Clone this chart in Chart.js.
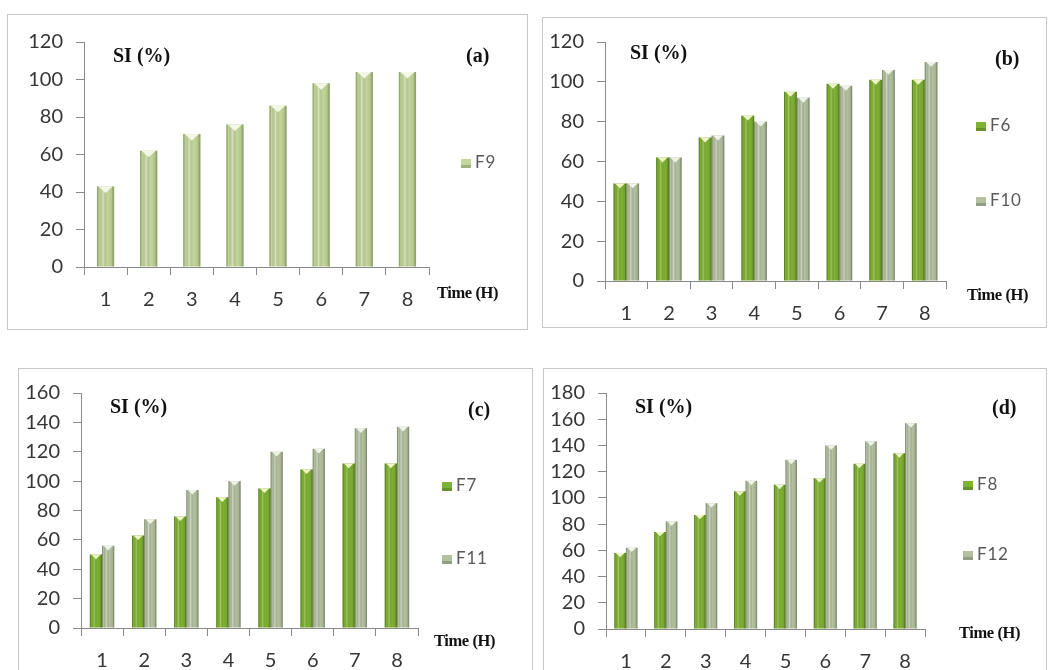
<!DOCTYPE html>
<html>
<head>
<meta charset="utf-8">
<title>SI (%) vs Time (H)</title>
<script src="https://cdn.jsdelivr.net/npm/chart.js@4.4.1/dist/chart.umd.min.js"></script>
<style>
  html, body { margin: 0; padding: 0; }
  body { width: 1050px; height: 670px; background: #fff; overflow: hidden; position: relative; }
  .panel { position: absolute; }
  .panel canvas { position: absolute; left: 0; top: 0; }
  .frame { position: absolute; left: 0; top: 0; right: 0; bottom: 0; border: 1.5px solid #c6c6c6; box-sizing: border-box; pointer-events: none; }
  .lbl { position: absolute; white-space: nowrap; font-family: "Liberation Serif", "Times New Roman", serif; font-weight: bold; color: #111; }
  .si { font-size: 20px; line-height: 20px; }
  .tag { font-size: 20px; line-height: 20px; }
  .time { font-size: 16.5px; line-height: 18px; letter-spacing: -0.4px; }
  .leg { position: absolute; white-space: nowrap; font-family: Lato, "Open Sans", sans-serif; font-size: 17px; line-height: 18px; color: #595959; letter-spacing: 0.8px; }
  .sw { display: inline-block; width: 10px; height: 9px; margin-right: 4px; vertical-align: 0px; }
</style>
</head>
<body>
<script>
// Time points (hours) shared by every panel
const timeLabels = ['1', '2', '3', '4', '5', '6', '7', '8'];

// Swelling index (%) per formulation
const f9  = [43, 62, 71, 76, 86, 98, 104, 104];
const f6  = [49, 62, 72, 83, 95, 99, 101, 101];
const f10 = [49, 62, 73, 80, 92, 98, 106, 110];
const f7  = [50, 63, 76, 89, 95, 108, 112, 112];
const f11 = [56, 74, 94, 100, 120, 122, 136, 137];
const f8  = [58, 74, 87, 105, 110, 115, 126, 134];
const f12 = [62, 82, 96, 113, 129, 140, 143, 157];

// Y-axis ranges for panels (a)-(d)
const yMaxes = [120, 120, 160, 180];
const yStep = 20;

// Bar colours: base fill, dark edge, light highlight, cap
const lightGreen = { base: '#c3d69b', edge: 'rgba(110,135,60,0.55)', hi: 'rgba(255,255,240,0.35)', cap: '#f3f7e3' };
const darkGreen  = { base: '#7fb133', edge: 'rgba(45,75,10,0.55)',   hi: 'rgba(220,245,160,0.35)', cap: '#eef6c8' };
const greyGreen  = { base: '#b3c1a0', edge: 'rgba(85,100,70,0.55)',  hi: 'rgba(250,252,245,0.40)', cap: '#f1f3ea' };

// Shading plugin: gives each bar a rounded, cylinder-like look and a notched top
const barShade = {
  id: 'barShade',
  afterDatasetsDraw(chart) {
    const ctx = chart.ctx;
    chart.data.datasets.forEach((ds, i) => {
      const meta = chart.getDatasetMeta(i);
      const pal = ds.palette;
      meta.data.forEach(el => {
        const p = el.getProps(['x', 'y', 'base', 'width'], true);
        const l = p.x - p.width / 2, r = p.x + p.width / 2;
        const g = ctx.createLinearGradient(l, 0, r, 0);
        g.addColorStop(0, pal.edge);
        g.addColorStop(0.12, 'rgba(0,0,0,0)');
        g.addColorStop(0.35, pal.hi);
        g.addColorStop(0.6, 'rgba(0,0,0,0)');
        g.addColorStop(0.85, 'rgba(0,0,0,0.08)');
        g.addColorStop(1, pal.edge);
        ctx.save();
        ctx.fillStyle = g;
        ctx.fillRect(l, p.y, p.width, p.base - p.y);
        // notch at the top of the bar
        ctx.beginPath();
        ctx.moveTo(l + 1.5, p.y);
        ctx.lineTo(r - 1.5, p.y);
        ctx.lineTo(p.x, p.y + p.width * 0.38);
        ctx.closePath();
        ctx.fillStyle = pal.cap;
        ctx.fill();
        ctx.restore();
      });
    });
  }
};

const axisGrey = '#8a8a8a';
const tickFont = { family: 'Lato, "Open Sans", sans-serif', size: 20 };
const tickColor = '#363636';

function addLabel(cls, text, left, cy, h) {
  const d = document.createElement('div');
  d.className = 'lbl ' + cls;
  d.textContent = text;
  d.style.left = left + 'px';
  d.style.top = (cy - h / 2) + 'px';
  document.body.appendChild(d);
}

function addLegend(name, pal, left, cy) {
  const d = document.createElement('div');
  d.className = 'leg';
  d.style.left = left + 'px';
  d.style.top = (cy - 9) + 'px';
  const s = document.createElement('span');
  s.className = 'sw';
  s.style.background = pal.base;
  s.style.boxShadow = 'inset 0 -3px 0 rgba(0,0,0,0.18)';
  d.appendChild(s);
  d.appendChild(document.createTextNode(name));
  document.body.appendChild(d);
}

function makePanel(cfg) {
  const wrap = document.createElement('div');
  wrap.className = 'panel';
  wrap.style.left = cfg.box[0] + 'px';
  wrap.style.top = cfg.box[1] + 'px';
  wrap.style.width = cfg.box[2] + 'px';
  wrap.style.height = cfg.box[3] + 'px';
  const cv = document.createElement('canvas');
  cv.width = cfg.box[2];
  cv.height = cfg.box[3];
  wrap.appendChild(cv);
  const fr = document.createElement('div');
  fr.className = 'frame';
  wrap.appendChild(fr);
  document.body.appendChild(wrap);

  new Chart(cv, {
    type: 'bar',
    data: {
      labels: timeLabels,
      datasets: cfg.series.map(s => ({
        label: s.name,
        data: s.values,
        backgroundColor: s.palette.base,
        borderWidth: 0,
        palette: s.palette,
        categoryPercentage: cfg.catPct,
        barPercentage: 1.0
      }))
    },
    options: {
      responsive: false,
      animation: false,
      devicePixelRatio: 1,
      layout: { padding: { left: 0, top: cfg.top, right: cfg.right, bottom: 0 } },
      plugins: { legend: { display: false }, tooltip: { enabled: false } },
      scales: {
        x: {
          grid: { offset: true, drawOnChartArea: false, tickLength: 8, color: axisGrey, lineWidth: 1 },
          border: { color: axisGrey, width: 1 },
          ticks: { font: tickFont, color: tickColor, padding: 13, maxRotation: 0, autoSkip: false },
          afterFit: s => { s.height = cfg.xH; }
        },
        y: {
          min: 0, max: cfg.yMax,
          grid: { drawOnChartArea: false, tickLength: 8, color: axisGrey, lineWidth: 1 },
          border: { color: axisGrey, width: 1 },
          ticks: { stepSize: yStep, font: tickFont, color: tickColor, padding: 13, autoSkip: false },
          afterFit: s => { s.width = cfg.yW; }
        }
      }
    },
    plugins: [barShade]
  });
}

// (a) F9
makePanel({ box: [7, 14, 521, 316], yW: 77, top: 28, right: 99, xH: 63, yMax: yMaxes[0], catPct: 0.4,
  series: [{ name: 'F9', values: f9, palette: lightGreen }] });
// (b) F6 / F10
makePanel({ box: [542, 17, 505, 311], yW: 63, top: 16, right: 101, xH: 47, yMax: yMaxes[1], catPct: 0.6,
  series: [{ name: 'F6', values: f6, palette: darkGreen }, { name: 'F10', values: f10, palette: greyGreen }] });
// (c) F7 / F11
makePanel({ box: [18, 368, 515, 312], yW: 63, top: 16, right: 115, xH: 52, yMax: yMaxes[2], catPct: 0.58,
  series: [{ name: 'F7', values: f7, palette: darkGreen }, { name: 'F11', values: f11, palette: greyGreen }] });
// (d) F8 / F12
makePanel({ box: [543, 368, 504, 312], yW: 63, top: 16, right: 122, xH: 51, yMax: yMaxes[3], catPct: 0.58,
  series: [{ name: 'F8', values: f8, palette: darkGreen }, { name: 'F12', values: f12, palette: greyGreen }] });

// Axis captions and panel tags
addLabel('si', 'SI (%)', 113, 55, 20);
addLabel('tag', '(a)', 466, 55, 20);
addLabel('time', 'Time (H)', 437, 293, 18);
addLabel('si', 'SI (%)', 630, 52, 20);
addLabel('tag', '(b)', 995, 58, 20);
addLabel('time', 'Time (H)', 967, 295, 18);
addLabel('si', 'SI (%)', 110, 406, 20);
addLabel('tag', '(c)', 468, 409, 20);
addLabel('time', 'Time (H)', 434, 641, 18);
addLabel('si', 'SI (%)', 635, 406, 20);
addLabel('tag', '(d)', 992, 407, 20);
addLabel('time', 'Time (H)', 959, 633, 18);

// Legends
addLegend('F9', lightGreen, 461, 162);
addLegend('F6', darkGreen, 976, 125);
addLegend('F10', greyGreen, 976, 200);
addLegend('F7', darkGreen, 442, 485);
addLegend('F11', greyGreen, 442, 558);
addLegend('F8', darkGreen, 963, 484);
addLegend('F12', greyGreen, 963, 554);
</script>
</body>
</html>
